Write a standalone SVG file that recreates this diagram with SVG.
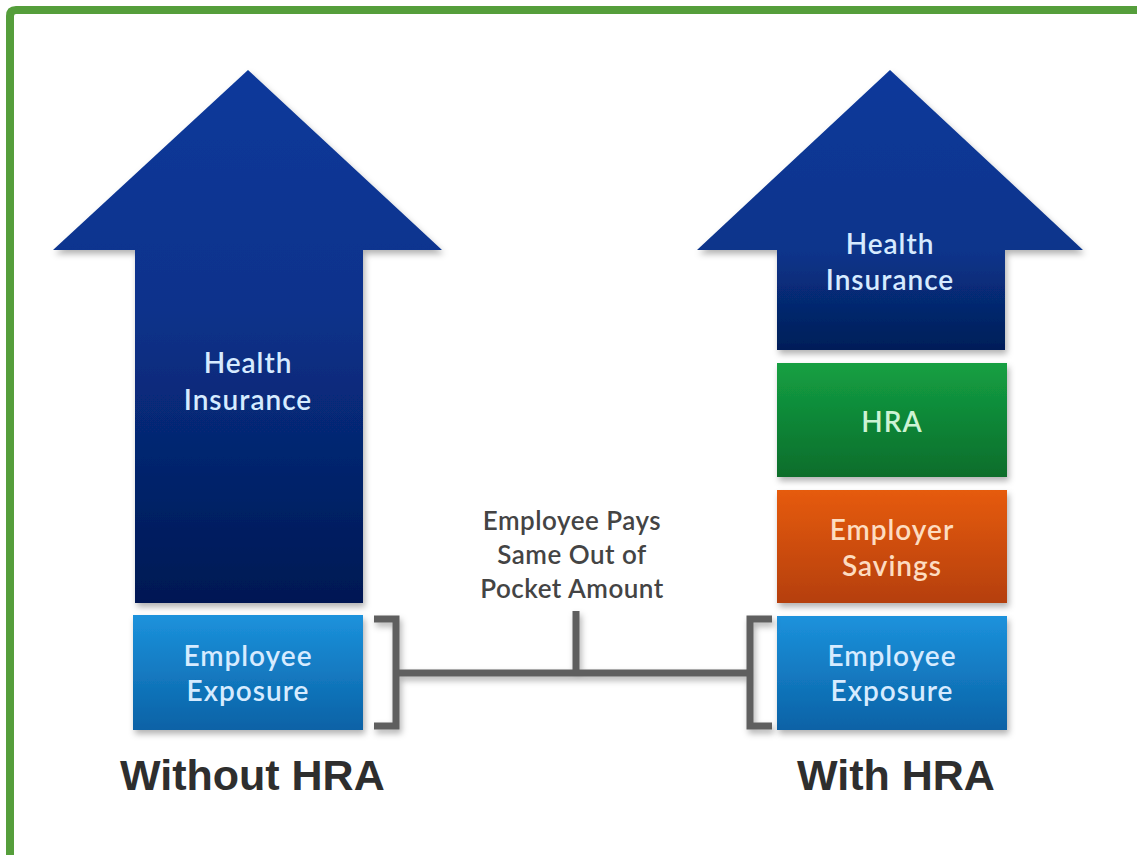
<svg xmlns="http://www.w3.org/2000/svg" width="1137" height="855" viewBox="0 0 1137 855">
  <style>
    .lbl { font-family: Lato, "Open Sans", "DejaVu Sans", sans-serif; font-weight: 600; font-size: 28px; text-anchor: middle; letter-spacing: 1px; }
    .blue-txt { fill: #d6ebff; }
    .green-txt { fill: #cdf3d4; }
    .orange-txt { fill: #fddcc0; }
    .note { font-family: Lato, "Open Sans", "DejaVu Sans", sans-serif; font-weight: 600; font-size: 26px; fill: #444; text-anchor: middle; letter-spacing: 0.5px; }
    .title { font-family: "Liberation Sans", Arial, sans-serif; font-weight: bold; font-size: 43px; fill: #2e2e2e; }
    .bracket { fill: none; stroke: #5f5f5f; stroke-width: 7; }
  </style>
  <defs>
    <linearGradient id="gArrowL" x1="0" y1="70" x2="0" y2="603" gradientUnits="userSpaceOnUse">
      <stop offset="0" stop-color="#0a399b"/>
      <stop offset="0.45" stop-color="#09328b"/>
      <stop offset="1" stop-color="#021853"/>
    </linearGradient>
    <linearGradient id="gArrowR" x1="0" y1="70" x2="0" y2="350" gradientUnits="userSpaceOnUse">
      <stop offset="0" stop-color="#0a399b"/>
      <stop offset="0.65" stop-color="#09348b"/>
      <stop offset="1" stop-color="#031e58"/>
    </linearGradient>
    <linearGradient id="gBlue" x1="0" y1="0" x2="0" y2="1">
      <stop offset="0" stop-color="#1c92dc"/>
      <stop offset="1" stop-color="#0a62a6"/>
    </linearGradient>
    <linearGradient id="gGreen" x1="0" y1="0" x2="0" y2="1">
      <stop offset="0" stop-color="#14a043"/>
      <stop offset="1" stop-color="#0a6d2b"/>
    </linearGradient>
    <linearGradient id="gOrange" x1="0" y1="0" x2="0" y2="1">
      <stop offset="0" stop-color="#e65b0f"/>
      <stop offset="1" stop-color="#b53f0b"/>
    </linearGradient>
    <filter id="shadow" x="-10%" y="-10%" width="120%" height="125%">
      <feDropShadow dx="2" dy="4" stdDeviation="3" flood-color="#000" flood-opacity="0.3"/>
    </filter>
  </defs>

  <rect width="1137" height="855" fill="#ffffff"/>

  <!-- frame: top and left green edges -->
  <path d="M10 855 V16 Q10 10 16 10 H1137" fill="none" stroke="#559e3b" stroke-width="8"/>

  <!-- left column: without HRA -->
  <g id="left-health-insurance">
    <path d="M248 70 L442 250 L363 250 L363 603 L135 603 L135 250 L53 250 Z" fill="url(#gArrowL)" filter="url(#shadow)"/>
    <text class="lbl blue-txt" x="248" y="373">Health</text>
    <text class="lbl blue-txt" x="248" y="410">Insurance</text>
  </g>
  <g id="left-employee-exposure">
    <rect x="133" y="615" width="230" height="115" fill="url(#gBlue)" filter="url(#shadow)"/>
    <text class="lbl blue-txt" x="248" y="666">Employee</text>
    <text class="lbl blue-txt" x="248" y="701">Exposure</text>
  </g>

  <!-- right column: with HRA -->
  <g id="right-health-insurance">
    <path d="M890 70 L1083 250 L1005 250 L1005 350 L777 350 L777 250 L697 250 Z" fill="url(#gArrowR)" filter="url(#shadow)"/>
    <text class="lbl blue-txt" x="890" y="254">Health</text>
    <text class="lbl blue-txt" x="890" y="290">Insurance</text>
  </g>
  <g id="right-hra">
    <rect x="777" y="363" width="230" height="114" fill="url(#gGreen)" filter="url(#shadow)"/>
    <text class="lbl green-txt" x="892" y="432">HRA</text>
  </g>
  <g id="right-employer-savings">
    <rect x="777" y="490" width="230" height="113" fill="url(#gOrange)" filter="url(#shadow)"/>
    <text class="lbl orange-txt" x="892" y="540">Employer</text>
    <text class="lbl orange-txt" x="892" y="576">Savings</text>
  </g>
  <g id="right-employee-exposure">
    <rect x="777" y="616" width="230" height="114" fill="url(#gBlue)" filter="url(#shadow)"/>
    <text class="lbl blue-txt" x="892" y="666">Employee</text>
    <text class="lbl blue-txt" x="892" y="701">Exposure</text>
  </g>

  <!-- bracket joining the two employee exposure blocks -->
  <g id="connectors" filter="url(#shadow)">
    <path class="bracket" d="M374 619 H396 V726 H374"/>
    <path class="bracket" d="M772 619 H750 V726 H772"/>
    <path class="bracket" d="M396 673 H750"/>
    <path class="bracket" d="M576 611 V673"/>
  </g>

  <g id="note">
    <text class="note" x="572" y="530">Employee Pays</text>
    <text class="note" x="572" y="564">Same Out of</text>
    <text class="note" x="572" y="598">Pocket Amount</text>
  </g>

  <text class="title" x="120" y="790">Without HRA</text>
  <text class="title" x="797" y="790">With HRA</text>
</svg>
